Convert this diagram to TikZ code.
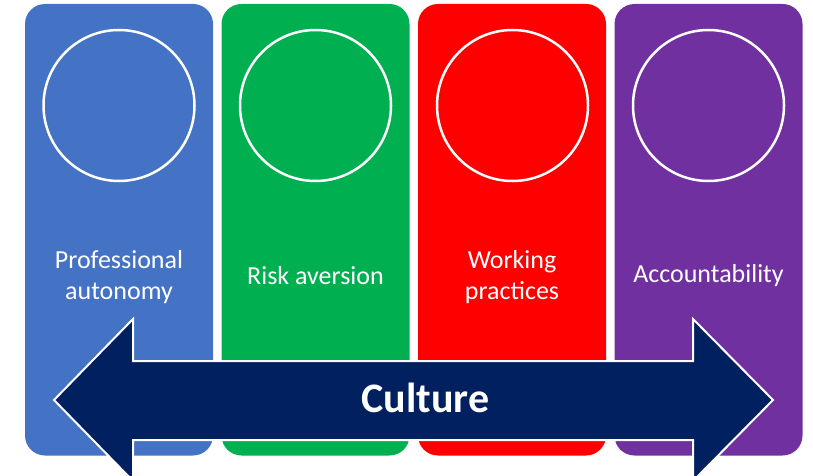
\documentclass[tikz,border=0pt]{standalone}
\usepackage{fontspec}
\setmainfont{Carlito}
\definecolor{cblue}{HTML}{4472C4}
\definecolor{cgreen}{HTML}{00B050}
\definecolor{cred}{HTML}{FF0000}
\definecolor{cpurple}{HTML}{7030A0}
\definecolor{cnavy}{HTML}{002060}
\begin{document}
\begin{tikzpicture}[x=1pt,y=-1pt,
  colbox/.style={rectangle,rounded corners=20pt,minimum width=188pt,minimum height=451.5pt,inner sep=0pt,draw=none},
  ring/.style={circle,draw=white,line width=2.5pt,minimum size=151pt,inner sep=0pt},
  lbl/.style={text=white,align=center,font=\fontsize{26}{31.5}\selectfont,inner sep=0pt},
  bigarrow/.style={fill=cnavy,draw=white,line width=2pt,line join=miter}]
\useasboundingbox (0,0) rectangle (813,476);
\node[colbox,fill=cblue] (c1) at (119,229.75) {};
\node[colbox,fill=cgreen] (c2) at (315.5,229.75) {};
\node[colbox,fill=cred] (c3) at (512,229.75) {};
\node[colbox,fill=cpurple] (c4) at (708.5,229.75) {};
\node[ring] (r1) at (119,105.5) {};
\node[ring] (r2) at (315.5,105.5) {};
\node[ring] (r3) at (512.5,105.5) {};
\node[ring] (r4) at (708.5,105.5) {};
\node[lbl] (t1) at (119,277) {Professional\\autonomy};
\node[lbl] (t2) at (315.5,275.5) {Risk aversion};
\node[lbl] (t3) at (512,277) {Working\\practices};
\node[lbl] (t4) at (708.5,275.5) {Accountability};
\begin{scope}
\clip (0,0) rectangle (813,476);
\draw[bigarrow] (54,400) -- (133,319) -- (133,361) -- (693,361) -- (693,319) -- (773,400)
  -- (693,481) -- (693,440) -- (133,440) -- (133,481) -- cycle;
\end{scope}
\node[text=white,font=\bfseries\fontsize{42}{48}\selectfont,anchor=base,inner sep=0pt] (cult) at (425.5,412) {Culture};
\end{tikzpicture}
\end{document}
